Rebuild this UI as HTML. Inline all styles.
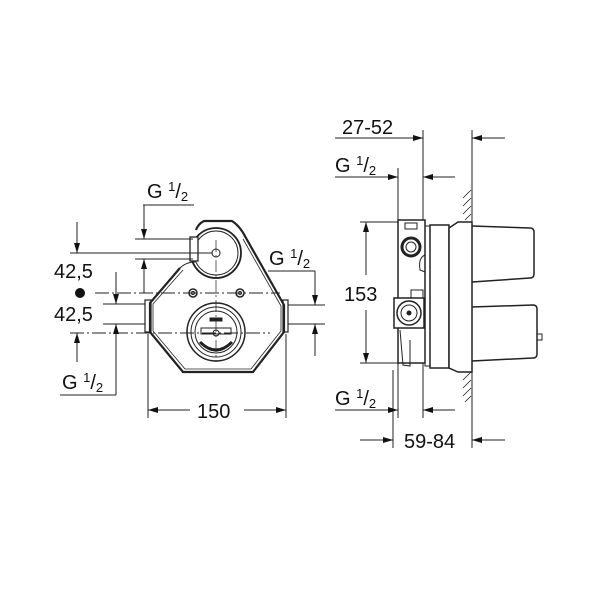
<!DOCTYPE html>
<html><head><meta charset="utf-8"><style>
html,body{margin:0;padding:0;background:#fff;}
svg{display:block;}
text{font-family:"Liberation Sans",sans-serif;fill:#111;}
</style></head><body>
<svg width="600" height="600" viewBox="0 0 600 600" xmlns="http://www.w3.org/2000/svg">
<defs>
<marker id="a" viewBox="0 0 10 6" refX="10" refY="3" markerWidth="10" markerHeight="6" orient="auto" markerUnits="userSpaceOnUse"><path d="M0,0 L10,3 L0,6 z" fill="#111"/></marker>
</defs>
<g stroke="#222" stroke-width="1" fill="none">
<!-- LEFT VIEW -->
<path d="M180,268 L150,303 L150,332 L183,372 L253,372 L284,332 L284,305 L246,238 Q240,226 232,221 L204,221 Q198,224 196,230" stroke-width="2.2"/>
<path d="M183,270 L153,304 L153,331 L185,369 L251,369 L281,331 L281,306 L243,239" stroke-width="0.8"/>
<rect x="145" y="300" width="6" height="32" stroke-width="1.2"/>
<rect x="283" y="300" width="5" height="32" stroke-width="1.2"/>
<circle cx="216" cy="253" r="25" stroke-width="1.8"/>
<circle cx="216" cy="253" r="22"/>
<circle cx="216" cy="253" r="4"/>
<rect x="190" y="237" width="8" height="24" fill="#fff" stroke-width="1.3"/>
<path d="M180,268 Q186,262 195,262"/>
<circle cx="193" cy="293" r="4" stroke-width="1.5"/><circle cx="193" cy="293" r="1.5"/>
<circle cx="240" cy="293" r="4" stroke-width="1.5"/><circle cx="240" cy="293" r="1.5"/>
<circle cx="216" cy="332" r="29" stroke-width="1.5"/>
<circle cx="216" cy="332" r="25"/>
<circle cx="216" cy="332" r="21"/>
<path d="M200,342 Q216,358 232,342" stroke-width="3"/>
<rect x="201" y="328" width="30" height="6"/>
<rect x="210" y="318" width="12" height="3" fill="#222"/>
<circle cx="216" cy="333" r="3"/>
<line x1="216" y1="240" x2="216" y2="362" stroke-dasharray="12,3,2,3" stroke-width="0.7"/>
<line x1="135" y1="239" x2="193" y2="239"/>
<line x1="70" y1="253" x2="212" y2="253"/>
<line x1="135" y1="259" x2="193" y2="259"/>
<line x1="95" y1="293" x2="280" y2="293" stroke-dasharray="14,3,2,3"/>
<line x1="103" y1="304" x2="145" y2="304"/>
<line x1="103" y1="324" x2="145" y2="324"/>
<line x1="70" y1="333" x2="270" y2="333" stroke-dasharray="14,3,2,3"/>
<line x1="288" y1="305" x2="325" y2="305"/>
<line x1="288" y1="324" x2="325" y2="324"/>
<line x1="77" y1="222" x2="77" y2="253" marker-end="url(#a)"/>
<line x1="77" y1="362" x2="77" y2="333" marker-end="url(#a)"/>
<line x1="116" y1="272" x2="116" y2="304" marker-end="url(#a)"/>
<line x1="116" y1="395" x2="116" y2="324" marker-end="url(#a)"/>
<line x1="60" y1="395" x2="116" y2="395"/>
<line x1="144" y1="205" x2="144" y2="239" marker-end="url(#a)"/>
<line x1="144" y1="293" x2="144" y2="259" marker-end="url(#a)"/>
<line x1="143" y1="205" x2="194" y2="205"/>
<line x1="268" y1="271" x2="315" y2="271"/>
<line x1="315" y1="271" x2="315" y2="305" marker-end="url(#a)"/>
<line x1="315" y1="356" x2="315" y2="324" marker-end="url(#a)"/>
<line x1="148" y1="334" x2="148" y2="418"/>
<line x1="286" y1="334" x2="286" y2="418"/>
<line x1="190" y1="410" x2="148" y2="410" marker-end="url(#a)"/>
<line x1="244" y1="410" x2="286" y2="410" marker-end="url(#a)"/>
</g>
<circle cx="80" cy="293" r="5" fill="#111"/>
<text x="54" y="278" font-size="20">42,5</text>
<text x="54" y="321" font-size="20">42,5</text>
<text x="147" y="198" font-size="20">G <tspan font-size="13" dy="-7">1</tspan><tspan dy="7">/</tspan><tspan font-size="13" dy="3">2</tspan></text>
<text x="269" y="265" font-size="20">G <tspan font-size="13" dy="-7">1</tspan><tspan dy="7">/</tspan><tspan font-size="13" dy="3">2</tspan></text>
<text x="62" y="389" font-size="20">G <tspan font-size="13" dy="-7">1</tspan><tspan dy="7">/</tspan><tspan font-size="13" dy="3">2</tspan></text>
<text x="197" y="418" font-size="20">150</text>

<g stroke="#222" stroke-width="1" fill="none">
<line x1="398" y1="168" x2="398" y2="418"/>
<line x1="423" y1="130" x2="423" y2="418"/>
<line x1="472" y1="130" x2="472" y2="448"/>
<line x1="393" y1="370" x2="393" y2="448"/>
<line x1="335" y1="138" x2="423" y2="138" marker-end="url(#a)"/>
<line x1="505" y1="138" x2="472" y2="138" marker-end="url(#a)"/>
<line x1="335" y1="177" x2="398" y2="177" marker-end="url(#a)"/>
<line x1="455" y1="177" x2="423" y2="177" marker-end="url(#a)"/>
<line x1="335" y1="410" x2="398" y2="410" marker-end="url(#a)"/>
<line x1="455" y1="410" x2="423" y2="410" marker-end="url(#a)"/>
<line x1="360" y1="440" x2="393" y2="440" marker-end="url(#a)"/>
<line x1="505" y1="440" x2="472" y2="440" marker-end="url(#a)"/>
<line x1="360" y1="222" x2="398" y2="222"/>
<line x1="360" y1="363" x2="398" y2="363"/>
<line x1="366" y1="275" x2="366" y2="222" marker-end="url(#a)"/>
<line x1="366" y1="310" x2="366" y2="363" marker-end="url(#a)"/>
<g stroke-width="0.8">
<line x1="463" y1="198" x2="471" y2="190"/><line x1="463" y1="206" x2="471" y2="198"/><line x1="463" y1="214" x2="471" y2="206"/><line x1="465" y1="220" x2="471" y2="214"/>
<line x1="463" y1="380" x2="471" y2="372"/><line x1="463" y1="388" x2="471" y2="380"/><line x1="463" y1="396" x2="471" y2="388"/><line x1="465" y1="402" x2="471" y2="396"/>
</g>
<rect x="398" y="220" width="27" height="143" stroke-width="1.5" fill="#fff"/>
<rect x="405" y="223" width="12" height="6"/>
<circle cx="411" cy="247" r="9" stroke-width="3"/>
<circle cx="411" cy="247" r="5"/>
<path d="M425,255 Q418,258 420,270 L425,272"/>
<rect x="411" y="290" width="12" height="8"/>
<rect x="394" y="298" width="30" height="30" stroke-width="1.5" fill="#fff"/>
<circle cx="409" cy="313" r="12" stroke-width="1.5"/>
<circle cx="409" cy="313" r="8"/>
<circle cx="409" cy="313" r="2" fill="#222"/>
<path d="M400,330 L403,365 L410,366 L410,340"/>
<rect x="425" y="226" width="5" height="140"/>
<rect x="430" y="225" width="19" height="143" stroke-width="1.5" fill="#fff"/>
<path d="M449,228 L458,222 L472,222 L472,372 L458,372 L449,368 Z" stroke-width="1.5" fill="#fff"/>
<path d="M472,226 L530,228 Q534,228 534,232 L534,274 Q534,278 530,278 L472,282" stroke-width="1.5"/>
<path d="M472,307 L533,305 Q537,305 537,309 L537,354 Q537,358 533,358 L472,361" stroke-width="1.5"/>
<rect x="537" y="334" width="5" height="6"/>
</g>
<text x="342" y="134" font-size="20">27-52</text>
<text x="335" y="172" font-size="20">G <tspan font-size="13" dy="-7">1</tspan><tspan dy="7">/</tspan><tspan font-size="13" dy="3">2</tspan></text>
<text x="335" y="405" font-size="20">G <tspan font-size="13" dy="-7">1</tspan><tspan dy="7">/</tspan><tspan font-size="13" dy="3">2</tspan></text>
<text x="344" y="301" font-size="20">153</text>
<text x="404" y="448" font-size="20">59-84</text>
</svg>
</body></html>
